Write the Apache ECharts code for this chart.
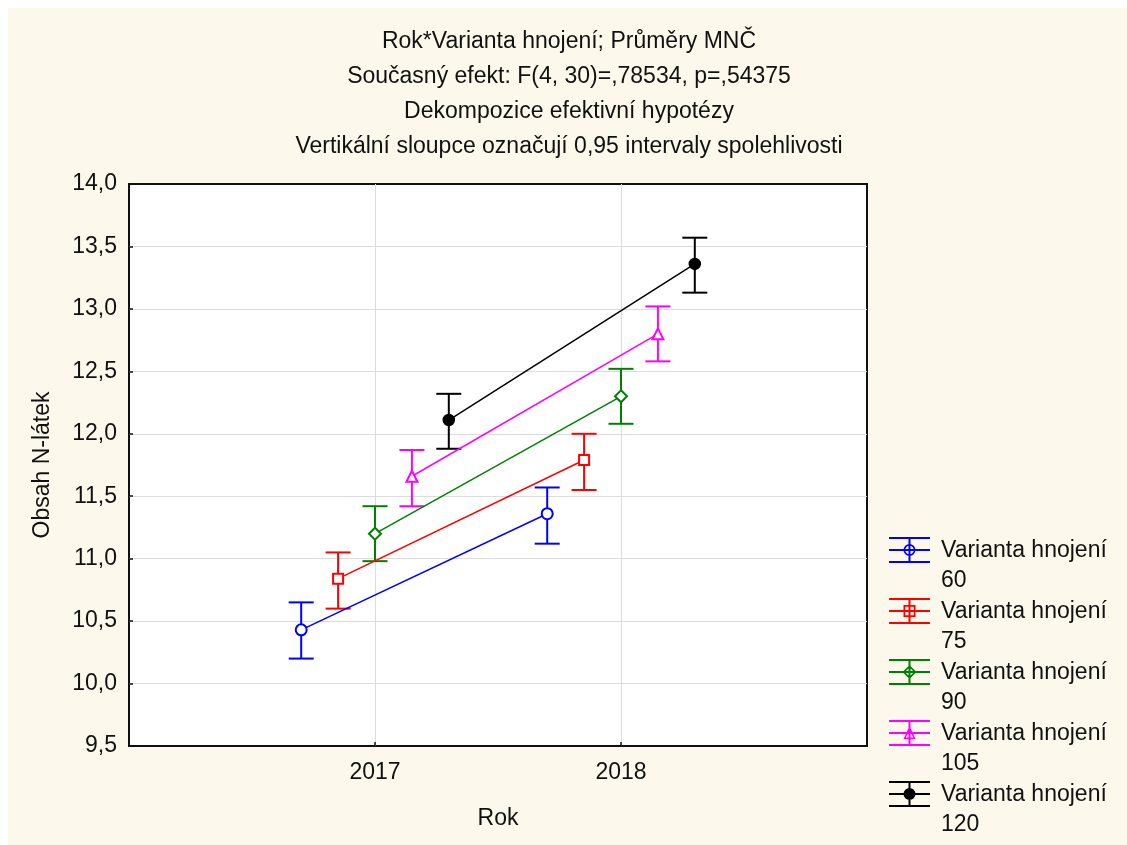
<!DOCTYPE html>
<html>
<head>
<meta charset="utf-8">
<script src="https://cdn.jsdelivr.net/npm/echarts@6/dist/echarts.min.js"></script>
<style>
  html, body { margin: 0; padding: 0; background: #fff; }
  #paper { position: absolute; left: 8px; top: 8px; right: 0; bottom: 0; background: #fdf8ec; }
  #chart { position: absolute; left: 0; top: 0; width: 1127px; height: 845px; }
</style>
</head>
<body>
<div id="paper"></div>
<div id="chart"></div>
<script>
// roky na ose X
const years = [2017, 2018];
// varianty hnojení
const variants = ['60', '75', '90', '105', '120'];

// průměry MNČ a meze 0,95 intervalu spolehlivosti
const mean60 = [10.43, 11.36];
const low60 = [10.20, 11.12];
const high60 = [10.65, 11.57];

const mean75 = [10.84, 11.79];
const low75 = [10.60, 11.55];
const high75 = [11.05, 12.00];

const mean90 = [11.20, 12.30];
const low90 = [10.98, 12.08];
const high90 = [11.42, 12.52];

const mean105 = [11.66, 12.80];
const low105 = [11.42, 12.58];
const high105 = [11.87, 13.02];

const mean120 = [12.11, 13.36];
const low120 = [11.88, 13.13];
const high120 = [12.32, 13.57];

const means = [mean60, mean75, mean90, mean105, mean120];
const lows = [low60, low75, low90, low105, low120];
const highs = [high60, high75, high90, high105, high120];

// posun bodů vedle sebe (v jednotkách roku)
const dodge = [-0.3, -0.15, 0, 0.15, 0.3];
const colors = ['#0000ff', '#ff0000', '#008000', '#ff00ff', '#000000'];
const symbols = ['emptyCircle', 'emptyRect', 'emptyDiamond', 'emptyTriangle', 'circle'];
const symbolSizes = [11, 10, 12, 11, 11];

const FONT = '"Liberation Sans", Arial, sans-serif';
const FS = 23;

// ikony legendy: chybová úsečka + značka
const bars = 'M0 0 L0.01 0 L0 0.01 Z M47.99 60 L48 60 L48 59.99 Z ' +
  'M1 1 H42 V3 H1 Z M1 25 H42 V27 H1 Z M1 13 H42 V15 H1 Z M20.5 1 H22.5 V27 H20.5 Z ';
const marks = [
  'M15.5 14 A6 6 0 1 1 27.5 14 A6 6 0 1 1 15.5 14 Z M17.2 14 A4.3 4.3 0 1 0 25.8 14 A4.3 4.3 0 1 0 17.2 14 Z',
  'M15.5 8 H27.5 V20 H15.5 Z M17.2 9.7 V18.3 H25.8 V9.7 Z',
  'M14.5 14 L21.5 7 L28.5 14 L21.5 21 Z M16.9 14 L21.5 18.6 L26.1 14 L21.5 9.4 Z',
  'M21.5 7 L27.5 20 L15.5 20 Z M21.5 10.8 L17.9 18.4 L25.1 18.4 Z',
  'M15.5 14 A6 6 0 1 1 27.5 14 A6 6 0 1 1 15.5 14 Z'
];

const names = variants.map(v => 'Varianta hnojení ' + v);

const series = [];
variants.forEach((v, i) => {
  const pts = years.map((y, j) => [y + dodge[i], means[i][j]]);
  const err = years.map((y, j) => [y + dodge[i], lows[i][j], highs[i][j]]);
  series.push({
    name: names[i],
    type: 'custom',
    z: 2,
    silent: true,
    data: err,
    renderItem: function (params, api) {
      const x = api.value(0);
      const top = api.coord([x, api.value(2)]);
      const bot = api.coord([x, api.value(1)]);
      const hw = 12.5;
      const st = { stroke: colors[i], lineWidth: 2, fill: null };
      return {
        type: 'group',
        children: [
          { type: 'line', shape: { x1: top[0], y1: top[1], x2: bot[0], y2: bot[1] }, style: st },
          { type: 'line', shape: { x1: top[0] - hw, y1: top[1], x2: top[0] + hw, y2: top[1] }, style: st },
          { type: 'line', shape: { x1: bot[0] - hw, y1: bot[1], x2: bot[0] + hw, y2: bot[1] }, style: st }
        ]
      };
    }
  });
  series.push({
    name: names[i],
    type: 'line',
    z: 3,
    data: pts,
    symbol: symbols[i],
    symbolSize: symbolSizes[i],
    lineStyle: { color: colors[i], width: 1.5 },
    itemStyle: { color: colors[i], borderColor: colors[i], borderWidth: 1.5 }
  });
});

const chart = echarts.init(document.getElementById('chart'));
chart.setOption({
  animation: false,
  backgroundColor: 'transparent',
  textStyle: { fontFamily: FONT },
  title: {
    text: 'Rok*Varianta hnojení; Průměry MNČ\n' +
      'Současný efekt: F(4, 30)=,78534, p=,54375\n' +
      'Dekompozice efektivní hypotézy\n' +
      'Vertikální sloupce označují 0,95 intervaly spolehlivosti',
    left: 569,
    top: 24,
    padding: 0,
    textAlign: 'center',
    textStyle: { fontFamily: FONT, fontSize: FS, fontWeight: 'normal', color: '#111', lineHeight: 35 }
  },
  legend: {
    orient: 'vertical',
    left: 888,
    top: 536,
    padding: 0,
    itemGap: 1,
    itemWidth: 48,
    itemHeight: 60,
    selectedMode: false,
    data: names.map((n, i) => ({
      name: n,
      icon: 'path://' + bars + marks[i],
      itemStyle: { color: colors[i], borderWidth: 0 }
    })),
    formatter: function (n) {
      const k = n.lastIndexOf(' ');
      return n.slice(0, k) + '\n' + n.slice(k + 1);
    },
    textStyle: { fontFamily: FONT, fontSize: FS, color: '#111', lineHeight: 30 }
  },
  grid: {
    left: 129,
    right: 260,
    top: 184,
    bottom: 99,
    show: true,
    backgroundColor: '#fff',
    borderColor: '#111',
    borderWidth: 2
  },
  xAxis: {
    type: 'value',
    min: 2016,
    max: 2019,
    interval: 1,
    name: 'Rok',
    nameLocation: 'middle',
    nameGap: 61,
    nameTextStyle: { fontFamily: FONT, fontSize: FS, color: '#111' },
    axisLine: { show: false },
    axisTick: { inside: true, length: 4, lineStyle: { color: '#111', width: 1.5 } },
    axisLabel: {
      margin: 15,
      fontFamily: FONT,
      fontSize: FS,
      color: '#111',
      formatter: v => (years.includes(v) ? String(v) : '')
    },
    splitLine: { show: true, showMinLine: false, showMaxLine: false, lineStyle: { color: '#dcdcdc', width: 1 } }
  },
  yAxis: {
    type: 'value',
    min: 9.5,
    max: 14,
    interval: 0.5,
    name: 'Obsah N-látek',
    nameLocation: 'middle',
    nameGap: 75,
    nameTextStyle: { fontFamily: FONT, fontSize: FS, color: '#111' },
    axisLine: { show: false },
    axisTick: { inside: true, length: 4, lineStyle: { color: '#111', width: 1.5 } },
    axisLabel: {
      margin: 12,
      fontFamily: FONT,
      fontSize: FS,
      color: '#111',
      formatter: v => v.toFixed(1).replace('.', ',')
    },
    splitLine: { show: true, showMinLine: false, showMaxLine: false, lineStyle: { color: '#dcdcdc', width: 1 } }
  },
  series: series
});
</script>
</body>
</html>
